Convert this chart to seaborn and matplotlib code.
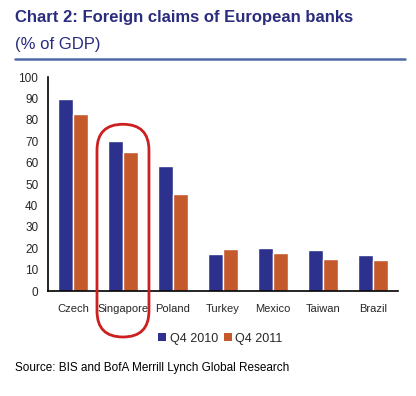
import pandas as pd
import numpy as np
import matplotlib
matplotlib.use("Agg")
import matplotlib.pyplot as plt
import seaborn as sns
from matplotlib.patches import FancyBboxPatch, Patch
from matplotlib.lines import Line2D

# Data
countries = ["Czech", "Singapore", "Poland", "Turkey", "Mexico", "Taiwan", "Brazil"]
q4_2010 = [90, 70, 58.5, 17.3, 20.1, 19.2, 16.8]
q4_2011 = [82.8, 65, 45.4, 19.6, 17.8, 15, 14.5]
series = ["Q4 2010", "Q4 2011"]
colors = ["#2B318C", "#C4592C"]
highlight = "Singapore"

df = pd.DataFrame({
    "Country": countries * 2,
    "Period": [series[0]] * len(countries) + [series[1]] * len(countries),
    "Value": q4_2010 + q4_2011,
})

sns.set_style("white")
plt.rcParams['font.family'] = ['Liberation Sans', 'DejaVu Sans']

fig = plt.figure(figsize=(4.16, 3.96), dpi=100)
ax = fig.add_axes([0.1154, 0.265, 0.841, 0.540])

sns.barplot(data=df, x="Country", y="Value", hue="Period", order=countries,
            hue_order=series, palette=colors, width=0.6, saturation=1,
            ax=ax, legend=False)

ax.set_ylim(0, 100)
ax.set_xlim(-0.5, len(countries) - 0.5)
ax.set_yticks(range(0, 101, 10))
ax.set_xlabel("")
ax.set_ylabel("")
for side in ["top", "right"]:
    ax.spines[side].set_visible(False)
for side in ["left", "bottom"]:
    ax.spines[side].set_color("black")
    ax.spines[side].set_linewidth(1.2)

# tick marks between categories, labels at centres
ax.set_xticks(np.arange(-0.5, len(countries), 1.0), minor=True)
ax.tick_params(axis="x", which="major", length=0, pad=9, labelsize=8)
ax.tick_params(axis="x", which="minor", length=4, width=1.2, direction="out", color="black")
ax.tick_params(axis="y", length=4, width=1.2, direction="out", color="black",
               labelsize=8.5, pad=3)

# legend
handles = [Patch(facecolor=c, edgecolor="none") for c in colors]
fig.legend(handles, series, loc="center", bbox_to_anchor=(0.53, 0.145), ncol=2,
           frameon=False, fontsize=9, handlelength=0.6, handleheight=0.6,
           handletextpad=0.3, columnspacing=0.5)

# titles
title_col = "#2A2C7E"
fig.text(0.036, 0.957, "Chart 2: Foreign claims of European banks", fontsize=12,
         fontweight="bold", color=title_col, va="center", ha="left")
fig.text(0.036, 0.887, "(% of GDP)", fontsize=12, color=title_col, va="center", ha="left")
fig.add_artist(Line2D([0.036, 0.974], [0.851, 0.851], transform=fig.transFigure,
                      color="#4C6AA6", lw=1.8))

fig.text(0.036, 0.07, "Source: BIS and BofA Merrill Lynch Global Research",
         fontsize=8.5, color="black", va="center", ha="left")

# red pill around the highlighted country
fig.canvas.draw()
i = countries.index(highlight)
x0 = ax.transData.transform((i - 0.52, 0))[0]
x1 = ax.transData.transform((i + 0.52, 0))[0]
top = ax.transData.transform((0, 0))[1] + 0.78 * (ax.transData.transform((0, 100))[1]
                                                  - ax.transData.transform((0, 0))[1])
bottom = 396 - 337
r = (x1 - x0) / 2
pill = FancyBboxPatch((x0 + r, bottom + r), 0.0001, top - bottom - 2 * r,
                      boxstyle=f"round,pad={r}", transform=None,
                      facecolor="none", edgecolor="#CC1F1F", lw=2)
pill.set_clip_on(False)
fig.add_artist(pill)

fig.savefig("out.png", dpi=100, facecolor="white")
